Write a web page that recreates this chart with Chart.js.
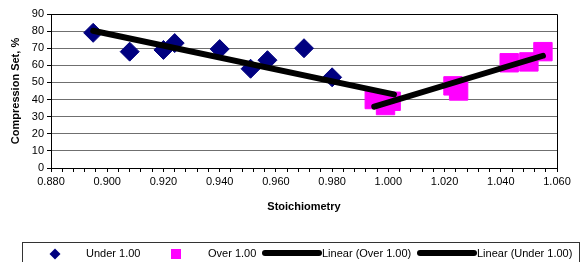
<!DOCTYPE html>
<html>
<head>
<meta charset="utf-8">
<script src="https://cdn.jsdelivr.net/npm/chart.js@4.4.0/dist/chart.umd.min.js"></script>
<style>
  html, body { margin: 0; padding: 0; background: #fff; }
  #wrap { width: 584px; height: 262px; position: relative; }
</style>
</head>
<body>
<div id="wrap"><canvas id="chart" width="584" height="262"></canvas></div>
<script>
// values
const underX = [0.895, 0.908, 0.920, 0.924, 0.940, 0.951, 0.957, 0.970, 0.980];
const underY = [79, 68, 69, 73, 69.5, 58, 63, 70, 53];
const overX = [0.995, 0.999, 1.001, 1.023, 1.025, 1.043, 1.050, 1.055];
const overY = [40, 36.5, 39, 48, 45, 61.5, 62, 68];

// trend line end points
const trendOverX = [0.995, 1.055];
const trendOverY = [35.8, 65.6];
const trendUnderX = [0.895, 1.002];
const trendUnderY = [80.2, 43];

const seriesLabels = ['Under 1.00', 'Over 1.00', 'Linear (Over 1.00)', 'Linear (Under 1.00)'];
const yTitle = 'Compression Set, %';
const xTitle = 'Stoichiometry';

const FONT = "'Liberation Sans', Arial, sans-serif";

function pts(xs, ys) {
    return xs.map((x, i) => ({ x: x, y: ys[i] }));
}

// plot frame (top + right edges) and the boxed legend below
const framePlugin = {
    id: 'frame',
    afterDraw(chart) {
        const ctx = chart.ctx;
        const a = chart.chartArea;
        ctx.save();
        ctx.strokeStyle = '#000';
        ctx.lineWidth = 1;
        ctx.beginPath();
        ctx.moveTo(Math.round(a.left) + 0.5, Math.round(a.top) + 0.5);
        ctx.lineTo(Math.round(a.right) + 0.5, Math.round(a.top) + 0.5);
        ctx.lineTo(Math.round(a.right) + 0.5, Math.round(a.bottom) + 0.5);
        ctx.stroke();

        // legend
        ctx.strokeStyle = '#333';
        ctx.strokeRect(22.5, 242.5, 557, 40);
        const cy = 254;
        const ds = chart.data.datasets;
        ctx.font = '11px ' + FONT;
        ctx.textBaseline = 'middle';
        ctx.fillStyle = '#000';

        // Under 1.00 - diamond
        ctx.fillStyle = ds[0].backgroundColor;
        ctx.beginPath();
        ctx.moveTo(55, cy - 5.5);
        ctx.lineTo(60.5, cy);
        ctx.lineTo(55, cy + 5.5);
        ctx.lineTo(49.5, cy);
        ctx.closePath();
        ctx.fill();
        ctx.fillStyle = '#000';
        ctx.fillText(ds[0].label, 86, cy);

        // Over 1.00 - square
        ctx.fillStyle = ds[1].backgroundColor;
        ctx.fillRect(171, cy - 5, 10, 10);
        ctx.fillStyle = '#000';
        ctx.fillText(ds[1].label, 208, cy);

        // trend lines
        const lineItems = [[ds[2], 262, 322], [ds[3], 417, 477]];
        lineItems.forEach(([d, x0, x1]) => {
            ctx.strokeStyle = d.borderColor;
            ctx.lineWidth = 6;
            ctx.lineCap = 'round';
            ctx.beginPath();
            ctx.moveTo(x0 + 3, cy - 1);
            ctx.lineTo(x1 - 3, cy - 1);
            ctx.stroke();
            ctx.fillStyle = '#000';
            ctx.fillText(d.label, x1, cy);
        });
        ctx.restore();
    }
};

const ctx = document.getElementById('chart').getContext('2d');
new Chart(ctx, {
    type: 'scatter',
    data: {
        datasets: [
            {
                label: seriesLabels[0],
                data: pts(underX, underY),
                backgroundColor: '#000080',
                borderColor: '#000080',
                borderWidth: 1,
                pointStyle: 'rectRot',
                pointRadius: 9.5,
                order: 2
            },
            {
                label: seriesLabels[1],
                data: pts(overX, overY),
                backgroundColor: '#ff00ff',
                borderColor: '#ff00ff',
                borderWidth: 1,
                pointStyle: 'rect',
                pointRadius: 13,
                order: 1
            },
            {
                label: seriesLabels[2],
                data: pts(trendOverX, trendOverY),
                showLine: true,
                borderColor: '#000',
                backgroundColor: '#000',
                borderWidth: 6,
                borderCapStyle: 'round',
                pointRadius: 0,
                order: 0
            },
            {
                label: seriesLabels[3],
                data: pts(trendUnderX, trendUnderY),
                showLine: true,
                borderColor: '#000',
                backgroundColor: '#000',
                borderWidth: 6,
                borderCapStyle: 'round',
                pointRadius: 0,
                order: 0
            }
        ]
    },
    options: {
        responsive: false,
        animation: false,
        layout: { padding: { top: 14, right: 27, bottom: 44, left: 0 } },
        plugins: {
            legend: { display: false },
            tooltip: { enabled: false },
            title: { display: false }
        },
        scales: {
            x: {
                type: 'linear',
                min: 0.88,
                max: 1.06,
                afterFit(scale) { scale.height = 50; },
                ticks: {
                    stepSize: 0.004,
                    autoSkip: false,
                    maxRotation: 0,
                    padding: 3,
                    color: '#000',
                    font: { family: FONT, size: 11 },
                    callback(v) {
                        const r = v / 0.02;
                        return Math.abs(r - Math.round(r)) < 1e-6 ? Number(v).toFixed(3) : '';
                    }
                },
                grid: {
                    drawOnChartArea: false,
                    drawTicks: true,
                    tickLength: 4,
                    tickColor: '#000'
                },
                border: { color: '#000', width: 1 },
                title: {
                    display: true,
                    text: xTitle,
                    color: '#000',
                    font: { family: FONT, size: 11, weight: 'bold' },
                    padding: { top: 4, bottom: 4 }
                }
            },
            y: {
                min: 0,
                max: 90,
                afterFit(scale) { scale.width = 51; },
                ticks: {
                    stepSize: 10,
                    padding: 3,
                    color: '#000',
                    font: { family: FONT, size: 11 }
                },
                grid: {
                    color: '#6f6f6f',
                    lineWidth: 1,
                    tickLength: 4,
                    tickColor: '#000'
                },
                border: { color: '#000', width: 1 },
                title: {
                    display: true,
                    text: yTitle,
                    color: '#000',
                    font: { family: FONT, size: 11, weight: 'bold' },
                    padding: { top: 9, bottom: 0 }
                }
            }
        }
    },
    plugins: [framePlugin]
});
</script>
</body>
</html>
